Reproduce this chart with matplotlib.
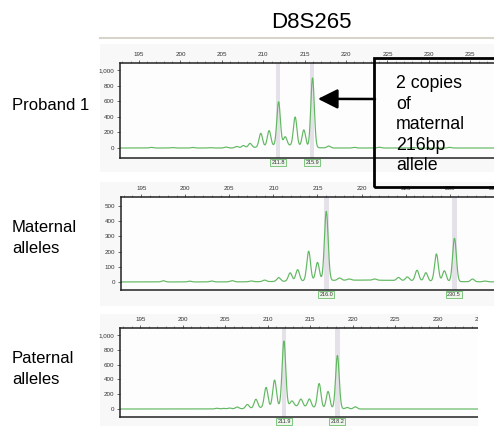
import numpy as np
import matplotlib.pyplot as plt
from matplotlib.patches import Rectangle
from matplotlib.ticker import MultipleLocator, FuncFormatter
import matplotlib.transforms as mtransforms

plt.rcParams['font.family'] = ['Liberation Sans', 'DejaVu Sans']

# peak positions (bp) and heights (RFU)
proband_pos = [196.5, 199.0, 201.5, 203.6, 205.5, 206.8, 207.6, 208.4, 209.7, 210.7,
               211.85, 212.65, 213.85, 214.9, 215.95, 217.9, 221.0, 224.0, 228.0, 232.5]
proband_h = [8, 6, 7, 5, 12, 20, 30, 55, 175, 200, 560, 110, 370, 215, 890, 25, 8, 10, 6, 8]
proband_calls = [211.8, 215.9]

maternal_pos = [197.5, 200.5, 203.0, 205.3, 207.5, 209.0, 210.6, 211.9, 212.75, 214.0,
                215.0, 216.0, 217.5, 218.6, 221.5, 224.2, 225.2, 226.3, 227.3, 228.5,
                229.4, 230.55, 232.6, 234.0]
maternal_h = [8, 5, 6, 8, 5, 10, 25, 55, 75, 195, 120, 455, 15, 8, 8, 20, 25, 70, 55, 180,
              70, 285, 18, 5]
maternal_calls = [216.0, 230.5]

paternal_pos = [204.0, 204.8, 205.5, 206.4, 207.6, 208.6, 209.8, 210.8, 211.9, 212.85,
                213.9, 214.9, 216.05, 217.1, 218.2, 219.35, 220.3]
paternal_h = [10, 8, 12, 25, 55, 120, 270, 360, 880, 70, 100, 110, 330, 230, 720, 20, 30]
paternal_calls = [211.9, 218.2]

W, H = 494, 426


def fx(px):
    return px / W


def fy(py):
    return 1 - py / H


fig = plt.figure(figsize=(W / 100, H / 100), dpi=100)

# light gray screenshot backgrounds and top frame line
for top, bot in [(44, 172), (182, 306), (314, 426)]:
    fig.add_artist(Rectangle((fx(100), fy(bot)), 1, (bot - top) / H,
                             transform=fig.transFigure, fc='#f8f8f8', ec='none', zorder=-5))
fig.add_artist(plt.Line2D([fx(100), 1], [fy(38), fy(38)], transform=fig.transFigure,
                          color='#d8d4cc', lw=1.5))


def trace_panel(rect, xlim, ylim, ystep, pos, heights, hump, calls):
    ax = fig.add_axes(rect)
    ax.set_facecolor('#fdfdfd')
    x = np.linspace(xlim[0], xlim[1], 4000)
    y = np.zeros_like(x)
    for p, h in zip(pos, heights):
        y += h * np.exp(-0.5 * ((x - p) / 0.21) ** 2)
    y += hump[1] * np.exp(-0.5 * ((x - hump[0]) / hump[2]) ** 2)
    for c in calls:
        ax.axvspan(c - 0.28, c + 0.28, color='#e4e1e8', lw=0, zorder=0)
    ax.plot(x, y, color='#62b862', lw=0.85, zorder=2)
    ax.set_xlim(*xlim)
    ax.set_ylim(*ylim)
    ax.xaxis.tick_top()
    ax.xaxis.set_major_locator(MultipleLocator(5))
    ax.xaxis.set_minor_locator(MultipleLocator(1))
    ax.yaxis.set_major_locator(MultipleLocator(ystep))
    ax.yaxis.set_major_formatter(FuncFormatter(lambda v, _: f'{int(v):,}'))
    ax.tick_params(axis='x', which='major', length=2.5, width=0.5, pad=2,
                   labelsize=4.5, colors='#333333')
    ax.tick_params(axis='x', which='minor', length=1.5, width=0.4, colors='#555555')
    ax.tick_params(axis='y', length=2.5, width=0.5, pad=1.5, labelsize=4.5, colors='#333333')
    ax.set_ylim(*ylim)
    for s in ['top', 'left', 'bottom']:
        ax.spines[s].set_linewidth(1.1)
        ax.spines[s].set_color('#222222')
    ax.spines['right'].set_visible(False)
    trans = mtransforms.blended_transform_factory(ax.transData, ax.transAxes)
    for c in calls:
        ax.text(c, -0.025, f'{c:.1f}', transform=trans, ha='center', va='top', fontsize=4,
                color='#333333', clip_on=False,
                bbox=dict(boxstyle='square,pad=0.2', fc='#eef6ec', ec='#6cbf6c', lw=0.6))
    return ax


ax1 = trace_panel([fx(120), fy(158), fx(400), 95 / H], (192.7, 241.0), (-128, 1090), 200,
                  proband_pos, proband_h, (212.5, 35, 2.0), proband_calls)
ax2 = trace_panel([fx(121), fy(290), fx(400), 93 / H], (192.7, 238.1), (-53, 559), 100,
                  maternal_pos, maternal_h, (220.0, 12, 6.0), maternal_calls)
ax3 = trace_panel([fx(120), fy(417), fx(400), 89 / H], (192.6, 239.7), (-108, 1095), 200,
                  paternal_pos, paternal_h, (212.5, 40, 2.5), paternal_calls)

# screenshot of the paternal trace is cut off on the right
fig.add_artist(Rectangle((fx(478), 0), 1, fy(312), transform=fig.transFigure,
                         fc='white', ec='none', zorder=20))

# labels
fig.text(fx(311), fy(23), 'D8S265', ha='center', va='center', fontsize=16)
fig.text(fx(12), fy(105), 'Proband 1', ha='left', va='center', fontsize=12)
fig.text(fx(12), fy(238), 'Maternal\nalleles', ha='left', va='center', fontsize=12,
         linespacing=1.45)
fig.text(fx(12), fy(369), 'Paternal\nalleles', ha='left', va='center', fontsize=12,
         linespacing=1.45)

# callout box with arrow
fig.add_artist(Rectangle((fx(374), fy(187)), fx(200), 129 / H, transform=fig.transFigure,
                         fill=False, ec='black', lw=2, zorder=30))
fig.text(fx(396), fy(75), '2 copies\nof\nmaternal\n216bp\nallele', ha='left', va='top',
         fontsize=12.8, linespacing=1.27, zorder=30)
ax1.annotate('', xy=(216.6, 630), xytext=(fx(375), fy(99)), textcoords='figure fraction',
             annotation_clip=False,
             arrowprops=dict(arrowstyle='-|>,head_length=0.6,head_width=0.3', lw=1.8,
                             color='black', mutation_scale=20, shrinkA=0, shrinkB=0))

fig.savefig('out.png', dpi=100)
